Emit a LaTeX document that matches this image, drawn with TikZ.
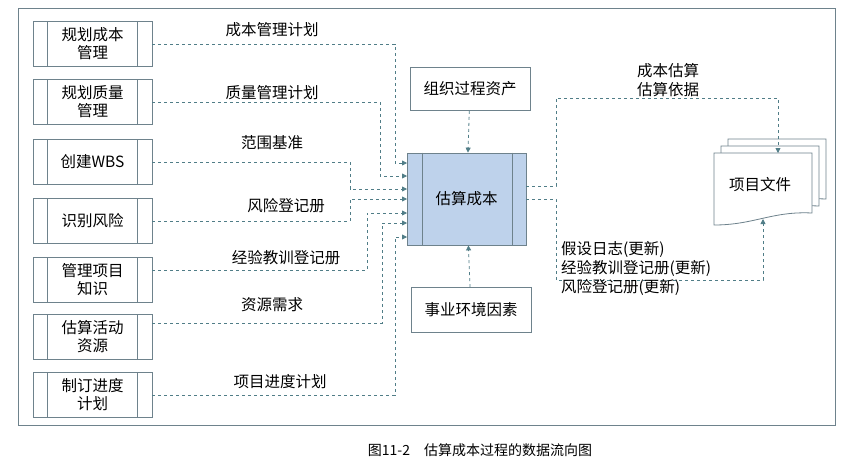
\documentclass[tikz,border=0pt]{standalone}
\usepackage{fontspec}
\setmainfont{Noto Sans CJK SC}
\usetikzlibrary{arrows.meta}
\usetikzlibrary{positioning}
\usetikzlibrary{calc}
\definecolor{flowc}{RGB}{80,125,135}
\definecolor{boxc}{RGB}{110,130,140}
\definecolor{fillc}{RGB}{190,210,235}
\tikzset{
  proc/.style={rectangle,draw=boxc,thick,minimum width=119pt,minimum height=45pt,align=center,font=\fontsize{15.5}{18}\selectfont},
  plain/.style={rectangle,draw=boxc,thick,minimum width=120pt,minimum height=43pt,font=\fontsize{15.5}{18}\selectfont},
  flow/.style={dashed,draw=flowc,thick,-{Triangle[length=5pt,width=5pt]}},
  lbl/.style={font=\fontsize{15.5}{19}\selectfont,inner sep=1pt},
}
\begin{document}
\begin{tikzpicture}[x=1pt,y=-1pt]
	\useasboundingbox (0,0) rectangle (865,467);
	% frame
	\draw[boxc,thick] (18,8) rectangle (835,425);
	
	% input processes
	\foreach \n/\y/\t in {P1/44/{规划成本\\管理}, P2/102/{规划质量\\管理}, P3/162/{创建WBS},
	  P4/221/{识别风险}, P5/280/{管理项目\\知识}, P6/337/{估算活动\\资源}, P7/395/{制订进度\\计划}}
	{
	\node[proc] (\n) at (92.5,\y) {\t};
	\draw[boxc,thick] ([xshift=15pt]\n.north west) -- ([xshift=15pt]\n.south west);
	\draw[boxc,thick] ([xshift=-15pt]\n.north east) -- ([xshift=-15pt]\n.south east);
	}
	
	% main process
	\node[proc,fill=fillc,minimum height=92pt] (E) at (466.5,199) {估算成本};
	\draw[boxc,thick] ([xshift=16pt]E.north west) -- ([xshift=16pt]E.south west);
	\draw[boxc,thick] ([xshift=-14pt]E.north east) -- ([xshift=-14pt]E.south east);
	\node[plain] (OPA) at (470,89) {组织过程资产};
	\node[plain,minimum height=45pt] (EEF) at (471,310) {事业环境因素};
	
	% project documents
	\coordinate (D) at (714,153);
	\foreach \d in {14,7,0}
	\draw[boxc,thick,fill=white] ($(D)+(\d,-\d)$) -- ++(98,0) -- ++(0,60) .. controls +(-40,-2) and +(40,0) .. ++(-98,12) -- cycle;
	\node[lbl] (DOC) at (760,185) {项目文件};
	\coordinate (Dtop) at (778,153);
	\coordinate (Dbot) at (763,219);
	
	% input flows
	\draw[flow] (P1.east) -- (395,44) -- (395,163) -- (407,163);
	\draw[flow] (P2.east) -- (380,102) -- (380,176) -- (407,176);
	\draw[flow] (P3.east) -- (350,162) -- (350,189) -- (407,189);
	\draw[flow] (P4.east) -- (350,221) -- (350,199) -- (407,199);
	\draw[flow] ([yshift=10pt]P5.east) -- (367,270) -- (367,213) -- (407,213);
	\draw[flow] ([yshift=14pt]P6.east) -- (382,323) -- (382,223) -- (407,223);
	\draw[flow] (P7.east) -- (395,395) -- (395,237) -- (407,237);
	\draw[flow] (OPA) -- (E);
	\draw[flow] (EEF) -- (E);
	
	% output flows
	\draw[flow] (526,186) -- (556,186) -- (556,98) -- (778,98) -- (Dtop);
	\draw[flow] (526,199) -- (556,199) -- (556,280) -- (763,280) -- (Dbot);
	
	% labels
	\node[lbl] at (272,30) {成本管理计划};
	\node[lbl] at (272,93) {质量管理计划};
	\node[lbl] at (272,143) {范围基准};
	\node[lbl] at (286,206) {风险登记册};
	\node[lbl] at (286,258) {经验教训登记册};
	\node[lbl] at (272,305) {资源需求};
	\node[lbl] at (280,382) {项目进度计划};
	\node[lbl,align=center] at (668,80) {成本估算\\估算依据};
	\node[lbl,anchor=west,align=left] at (560,268) {假设日志(更新)\\经验教训登记册(更新)\\风险登记册(更新)};
	
	% caption
	\node[font=\fontsize{14}{16}\selectfont] at (480,450) {图11-2\quad 估算成本过程的数据流向图};
\end{tikzpicture}
\end{document}
